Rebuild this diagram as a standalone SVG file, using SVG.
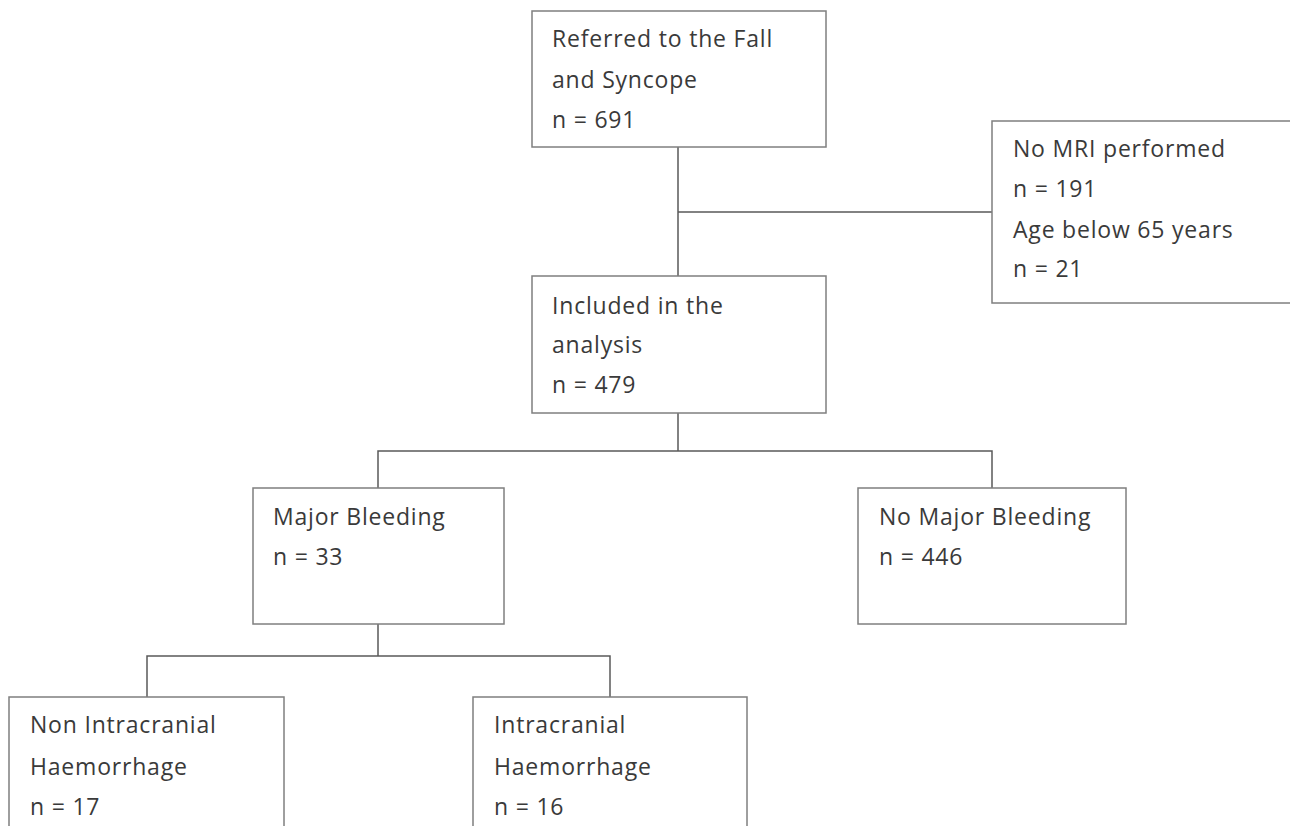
<svg xmlns="http://www.w3.org/2000/svg" width="1290" height="826" viewBox="0 0 1290 826">
<style>
.box{fill:#ffffff;stroke:#7f7f7f;stroke-width:1.5}
.conn{fill:none;stroke:#595959;stroke-width:1.5}
text{font-family:"Open Sans","Liberation Sans",sans-serif;font-size:23px;letter-spacing:0.8px;fill:#3a3a3a}
</style>
<rect width="1290" height="826" fill="#ffffff"/>
<g id="connectors">
<path class="conn" d="M678,147 V276"/>
<path class="conn" d="M678,212 H992"/>
<path class="conn" d="M678,413 V451"/>
<path class="conn" d="M378,488 V451 H992 V488"/>
<path class="conn" d="M378,624 V656"/>
<path class="conn" d="M147,697 V656 H610 V697"/>
</g>
<g id="node-referred">
<rect class="box" x="532" y="11" width="294" height="136"/>
<text x="552" y="47">Referred to the Fall</text>
<text x="552" y="88">and Syncope</text>
<text x="552" y="128">n = 691</text>
</g>
<g id="node-excluded">
<rect class="box" x="992" y="121" width="310" height="182"/>
<text x="1013" y="157">No MRI performed</text>
<text x="1013" y="197">n = 191</text>
<text x="1013" y="238">Age below 65 years</text>
<text x="1013" y="277">n = 21</text>
</g>
<g id="node-included">
<rect class="box" x="532" y="276" width="294" height="137"/>
<text x="552" y="314">Included in the</text>
<text x="552" y="353">analysis</text>
<text x="552" y="393">n = 479</text>
</g>
<g id="node-major">
<rect class="box" x="253" y="488" width="251" height="136"/>
<text x="273" y="525">Major Bleeding</text>
<text x="273" y="565">n = 33</text>
</g>
<g id="node-nomajor">
<rect class="box" x="858" y="488" width="268" height="136"/>
<text x="879" y="525">No Major Bleeding</text>
<text x="879" y="565">n = 446</text>
</g>
<g id="node-nonich">
<rect class="box" x="9" y="697" width="275" height="150"/>
<text x="30" y="733">Non Intracranial</text>
<text x="30" y="775">Haemorrhage</text>
<text x="30" y="815">n = 17</text>
</g>
<g id="node-ich">
<rect class="box" x="473" y="697" width="274" height="150"/>
<text x="494" y="733">Intracranial</text>
<text x="494" y="775">Haemorrhage</text>
<text x="494" y="815">n = 16</text>
</g>
</svg>
